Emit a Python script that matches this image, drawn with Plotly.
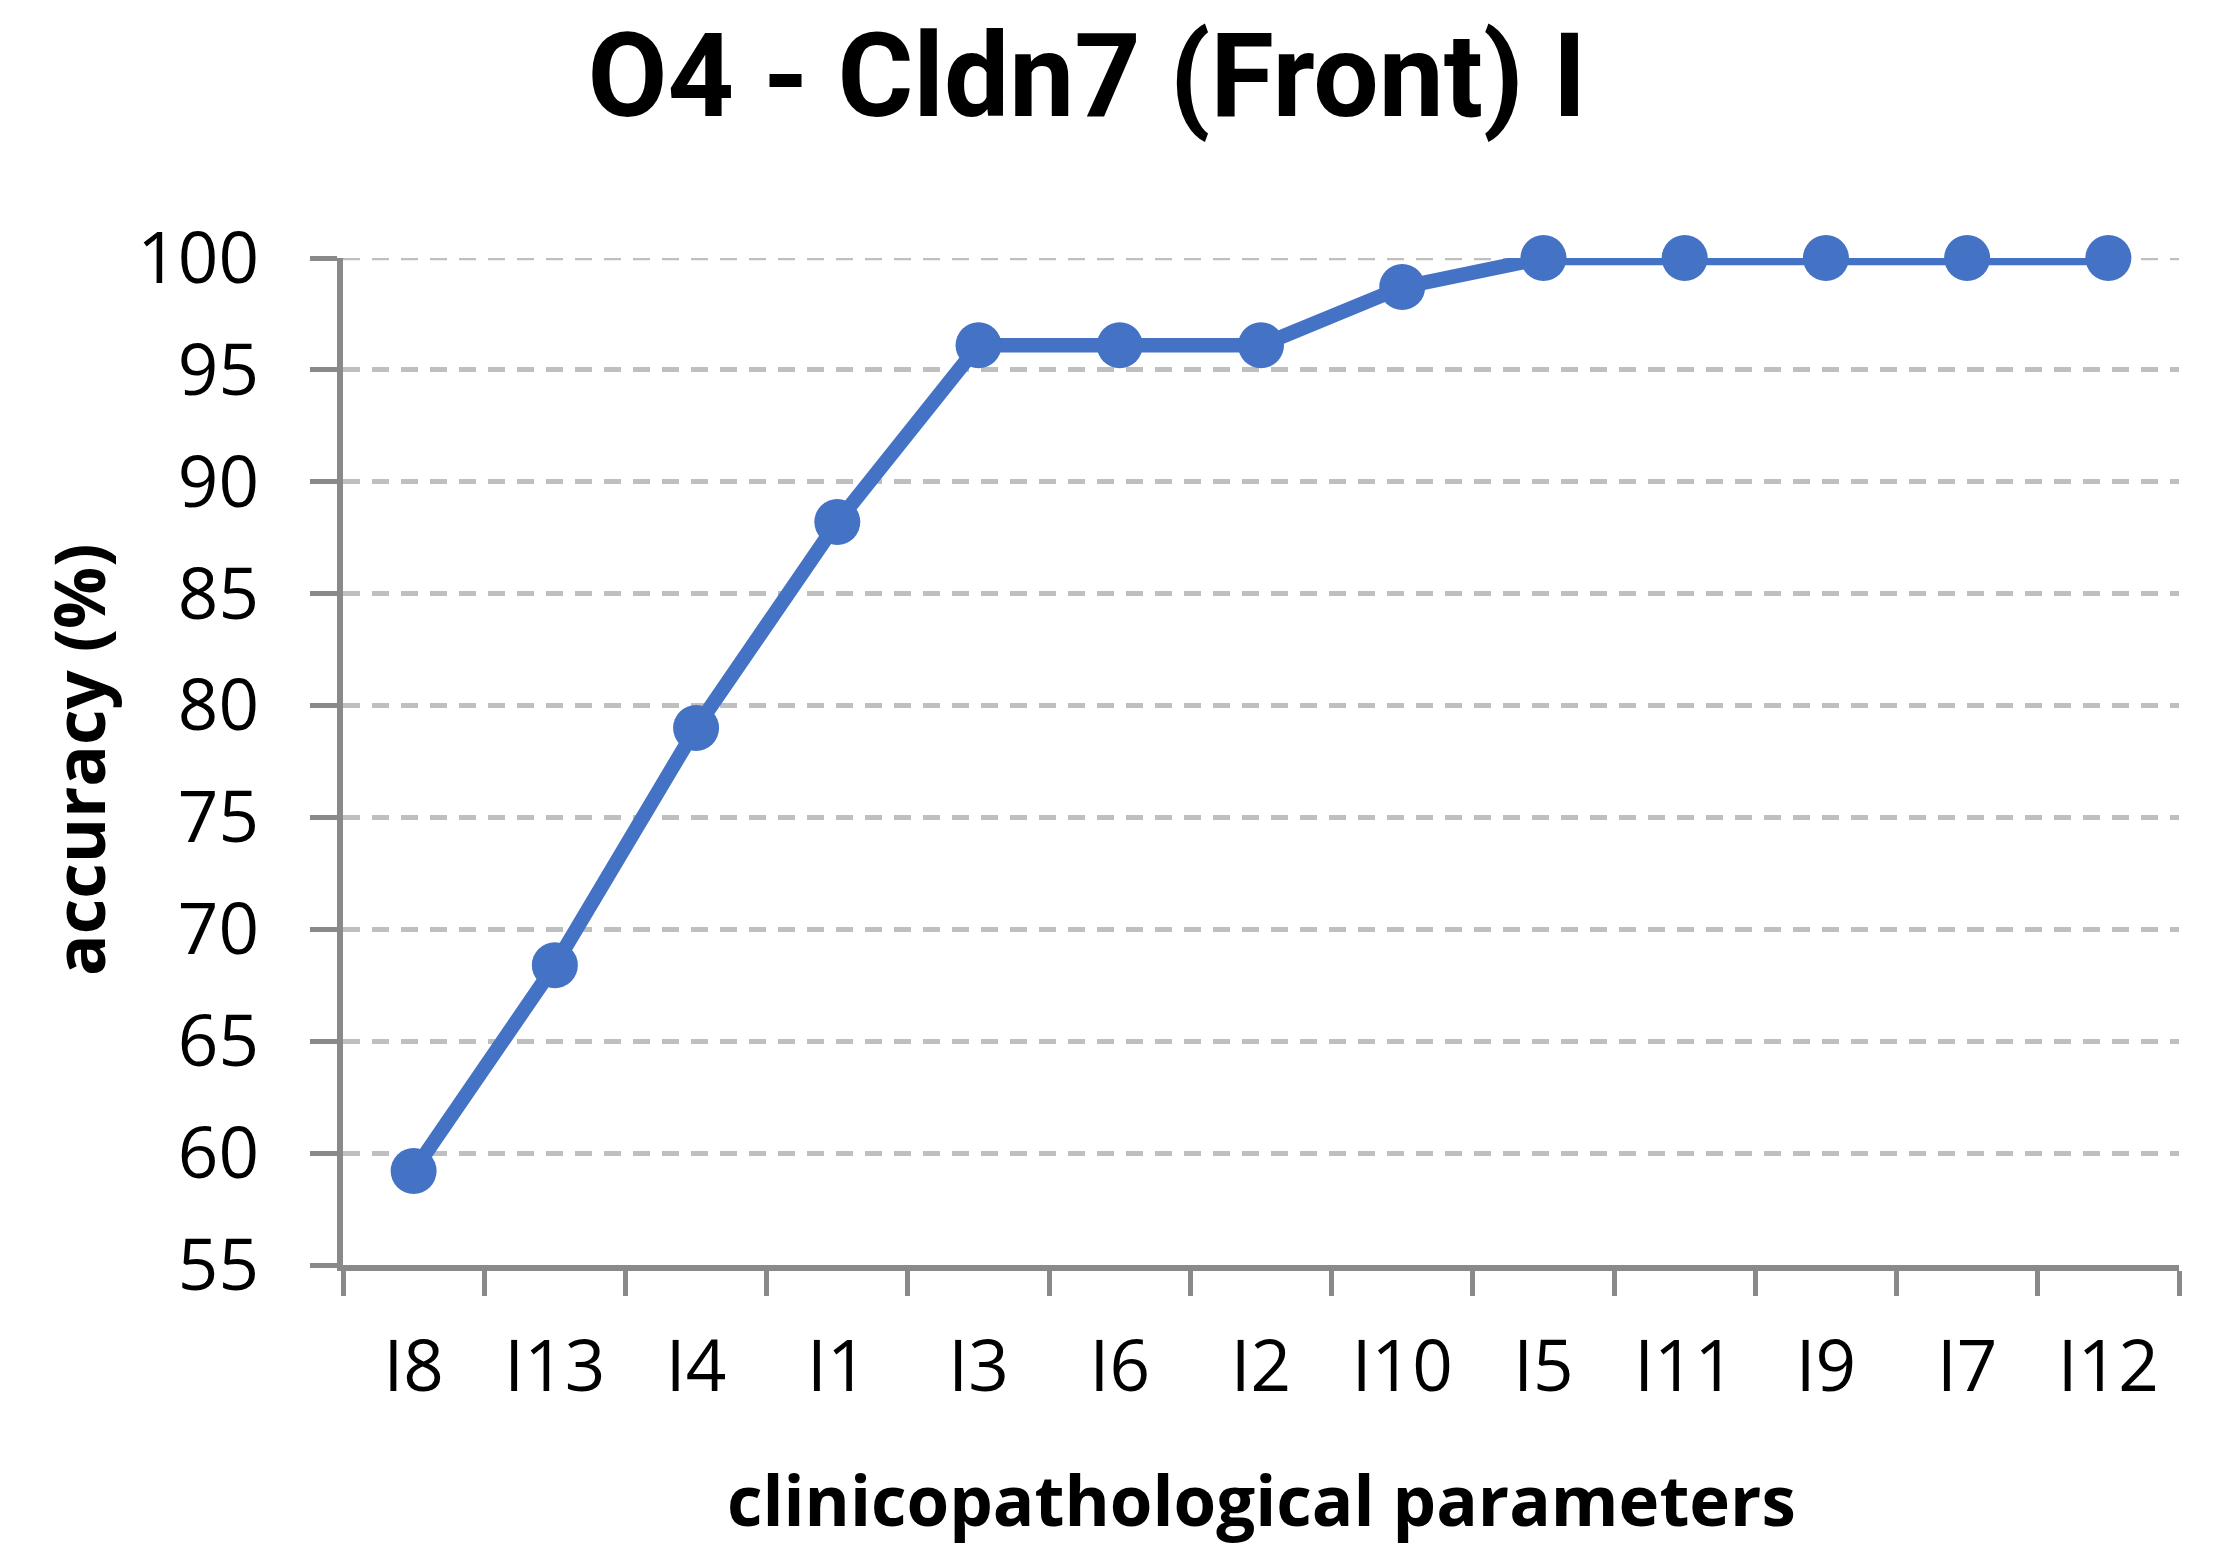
import plotly.graph_objects as go

categories = ["I8", "I13", "I4", "I1", "I3", "I6", "I2", "I10", "I5", "I11", "I9", "I7", "I12"]
accuracy = [59.2, 68.4, 79.0, 88.2, 96.1, 96.1, 96.1, 98.7, 100, 100, 100, 100, 100]
y_ticks = [55, 60, 65, 70, 75, 80, 85, 90, 95, 100]

# page has an 8px body margin, so the figure is drawn offset by (8, 8)
W, H = 2228, 1550
L, R, T, B = 335, 57, 249.5, 292.5
FONT = "Open Sans"
AXIS_COLOR = "#898989"
GRID_COLOR = "#BFBFBF"
GRID_DASH = "17px,12px"
SERIES_COLOR = "#4472C4"

fig = go.Figure()
# line clipped to the plot area (as in the original), markers not clipped
fig.add_trace(go.Scatter(
    x=categories, y=accuracy, mode="lines",
    line=dict(color=SERIES_COLOR, width=14.5),
    cliponaxis=True, hoverinfo="skip",
))
fig.add_trace(go.Scatter(
    x=categories, y=accuracy, mode="markers",
    marker=dict(color=SERIES_COLOR, size=46),
    cliponaxis=False,
))

fig.update_layout(
    width=W, height=H,
    margin=dict(l=L, r=R, t=T, b=B),
    paper_bgcolor="white", plot_bgcolor="white",
    showlegend=False,
    font=dict(family=FONT, color="black"),
    title=dict(
        text="<b>O4 - Cldn7 (Front) I</b>",
        x=1079 / W, xanchor="center",
        y=1 - 67 / H, yanchor="middle",
        xref="container", yref="container",
        font=dict(family="Roboto", size=116, color="black"),
    ),
)

fig.update_xaxes(
    type="category",
    range=[-0.5, len(categories) - 0.5],
    showline=True, linecolor=AXIS_COLOR, linewidth=5.5,
    ticks="outside", tickson="boundaries", ticklen=25, tickwidth=5, tickcolor=AXIS_COLOR,
    tickfont=dict(family=FONT, size=71, color="black"),
    ticklabelstandoff=35,
    showgrid=False, zeroline=False,
)

fig.update_yaxes(
    range=[55, 100],
    tickvals=y_ticks,
    showline=True, linecolor=AXIS_COLOR, linewidth=5.5,
    ticks="outside", ticklen=27, tickwidth=5, tickcolor=AXIS_COLOR,
    tickfont=dict(family=FONT, size=71, color="black"),
    ticklabelstandoff=37,
    showgrid=True, gridcolor=GRID_COLOR, gridwidth=4.5, griddash=GRID_DASH,
    zeroline=False,
)

# top gridline (Plotly omits the gridline lying on the range edge)
fig.add_shape(
    type="line", xref="paper", yref="y",
    x0=0, x1=1, y0=max(y_ticks), y1=max(y_ticks),
    line=dict(color=GRID_COLOR, width=4.5, dash=GRID_DASH),
    layer="below",
)

fig.add_annotation(
    text="<b>accuracy (%)</b>", textangle=-90,
    xref="paper", yref="paper",
    x=(70 - L) / (W - L - R), y=1 - (752 - T) / (H - T - B),
    xanchor="center", yanchor="middle", showarrow=False,
    font=dict(family=FONT, size=69, color="black"),
)
fig.add_annotation(
    text="<b>clinicopathological parameters</b>",
    xref="paper", yref="paper",
    x=(1253 - L) / (W - L - R), y=-(1492 - (H - B)) / (H - T - B),
    xanchor="center", yanchor="middle", showarrow=False,
    font=dict(family=FONT, size=69, color="black"),
)

fig.write_html("out.html")
